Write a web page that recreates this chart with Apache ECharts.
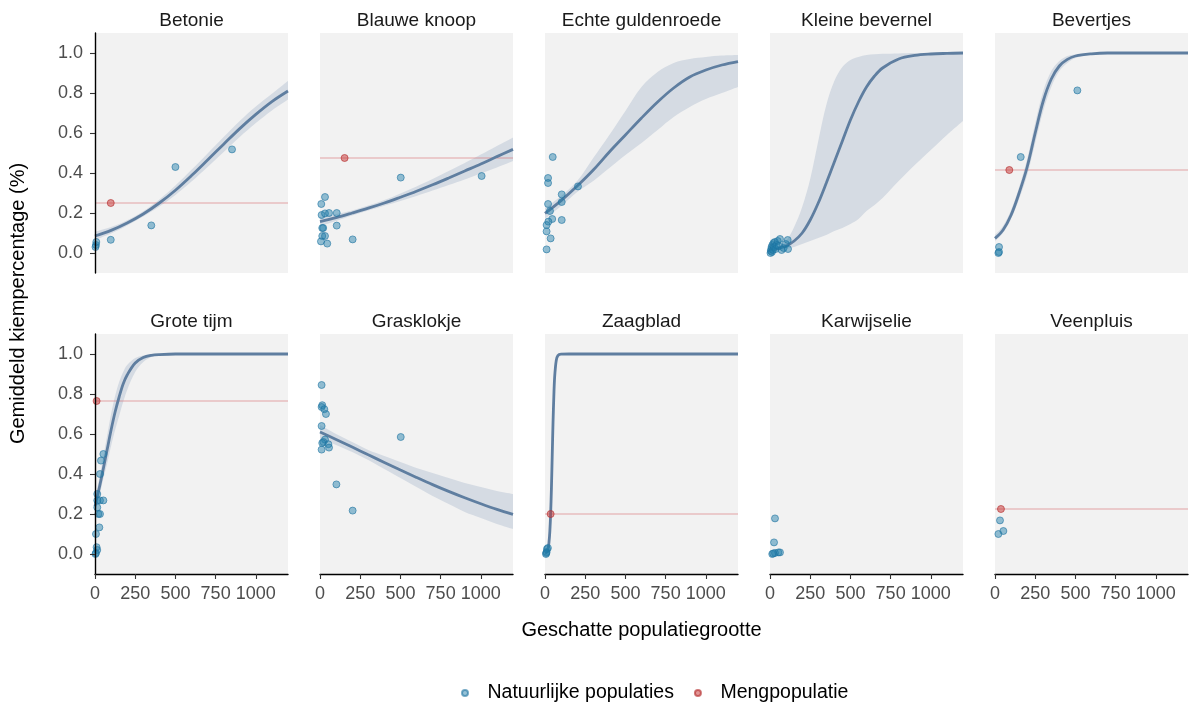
<!DOCTYPE html>
<html>
<head>
<meta charset="utf-8">
<script src="https://cdn.jsdelivr.net/npm/echarts@6/dist/echarts.min.js"></script>
<style>
  html, body { margin: 0; padding: 0; background: #ffffff; }
  #chart { width: 1192px; height: 702px; }
</style>
</head>
<body>
<div id="chart"></div>
<script>
// ---- data ---------------------------------------------------------------
const speciesNames = ['Betonie', 'Blauwe knoop', 'Echte guldenroede', 'Kleine bevernel', 'Bevertjes',
                      'Grote tijm', 'Grasklokje', 'Zaagblad', 'Karwijselie', 'Veenpluis'];

const xTicks = [0, 250, 500, 750, 1000];
const yTicks = [0, 0.2, 0.4, 0.6, 0.8, 1.0];

// natural populations: [estimated population size, mean germination fraction]
const naturalPops = [
  [[3, 0.03], [6, 0.04], [8, 0.055], [98, 0.066], [350, 0.138], [500, 0.43], [852, 0.518]],
  [[8, 0.245], [31, 0.28], [10, 0.19], [31, 0.198], [56, 0.2], [104, 0.2], [14, 0.125], [20, 0.125],
   [104, 0.137], [14, 0.085], [31, 0.085], [6, 0.058], [45, 0.047], [203, 0.068], [502, 0.377], [1005, 0.385]],
  [[48, 0.48], [19, 0.375], [19, 0.35], [104, 0.293], [104, 0.255], [19, 0.245], [31, 0.21], [45, 0.17],
   [21, 0.157], [10, 0.14], [10, 0.108], [104, 0.165], [35, 0.073], [10, 0.018], [205, 0.333]],
  [[3, 0.0], [5, 0.01], [8, 0.02], [10, 0.03], [12, 0.005], [15, 0.04], [18, 0.015], [22, 0.05], [25, 0.03],
   [30, 0.055], [35, 0.02], [40, 0.04], [48, 0.06], [55, 0.035], [62, 0.07], [72, 0.015], [85, 0.025],
   [98, 0.045], [110, 0.065], [112, 0.02]],
  [[25, 0.03], [21, 0.0], [25, 0.005], [160, 0.48], [512, 0.813]],
  [[52, 0.50], [37, 0.467], [31, 0.40], [14, 0.30], [14, 0.268], [31, 0.268], [52, 0.268], [14, 0.233],
   [21, 0.20], [31, 0.20], [27, 0.133], [6, 0.10], [10, 0.034], [14, 0.02], [6, 0.005], [3, 0.0]],
  [[10, 0.845], [14, 0.744], [10, 0.735], [27, 0.724], [37, 0.70], [10, 0.64], [31, 0.572], [21, 0.56],
   [14, 0.555], [52, 0.549], [56, 0.532], [10, 0.522], [502, 0.585], [102, 0.348], [203, 0.217]],
  [[6, 0.0], [10, 0.01], [12, 0.025], [18, 0.03], [8, 0.005]],
  [[31, 0.178], [25, 0.058], [14, 0.0], [31, 0.005], [52, 0.008], [62, 0.008], [20, 0.003]],
  [[31, 0.168], [52, 0.115], [21, 0.10]]
];

// mixed population: [size, germination] (null where absent)
const mixedPop = [[98, 0.25], [153, 0.475], null, null, [89, 0.415], [10, 0.765], null, [35, 0.20], null, [37, 0.225]];

// fitted logistic curves with confidence band, sampled along population size
const evenSizes = [0, 100, 200, 300, 400, 500, 600, 700, 800, 900, 1000, 1100, 1200];
const fitSizes = [
  evenSizes,
  evenSizes,
  evenSizes,
  [0, 50, 100, 150, 200, 250, 300, 350, 400, 450, 500, 550, 600, 650, 700, 800, 900, 1000, 1100, 1200],
  [0, 50, 100, 150, 200, 250, 300, 350, 400, 450, 500, 600, 700, 800, 900, 1000, 1100, 1200],
  [0, 25, 50, 75, 100, 125, 150, 175, 200, 250, 300, 350, 400, 500, 600, 700, 800, 900, 1000, 1100, 1200],
  evenSizes,
  [0, 10, 20, 25, 30, 35, 40, 45, 50, 55, 60, 70, 80, 100, 150, 200, 400, 600, 800, 1000, 1200],
  null,
  null
];
const fitMid = [
  [0.085, 0.113, 0.150, 0.195, 0.250, 0.314, 0.387, 0.465, 0.544, 0.622, 0.693, 0.757, 0.810],
  [0.157, 0.177, 0.200, 0.224, 0.250, 0.279, 0.309, 0.341, 0.375, 0.410, 0.445, 0.482, 0.518],
  [0.198, 0.262, 0.335, 0.415, 0.505, 0.59, 0.675, 0.755, 0.825, 0.88, 0.915, 0.94, 0.957],
  [0.015, 0.022, 0.035, 0.06, 0.10, 0.165, 0.25, 0.35, 0.455, 0.56, 0.665, 0.755, 0.83, 0.885, 0.925, 0.97, 0.988, 0.995, 0.998, 1.0],
  [0.073, 0.115, 0.19, 0.30, 0.43, 0.60, 0.76, 0.87, 0.935, 0.968, 0.985, 0.996, 1, 1, 1, 1, 1, 1],
  [0.24, 0.325, 0.42, 0.52, 0.62, 0.71, 0.785, 0.85, 0.895, 0.955, 0.982, 0.993, 0.997, 1, 1, 1, 1, 1, 1, 1, 1],
  [0.610, 0.573, 0.535, 0.496, 0.458, 0.420, 0.383, 0.347, 0.313, 0.281, 0.251, 0.223, 0.198],
  [0.002, 0.008, 0.031, 0.06, 0.112, 0.20, 0.33, 0.496, 0.66, 0.79, 0.885, 0.968, 0.992, 0.999, 1, 1, 1, 1, 1, 1, 1],
  null,
  null
];
const fitLow = [
  [0.065, 0.097, 0.137, 0.182, 0.232, 0.290, 0.357, 0.430, 0.505, 0.580, 0.650, 0.713, 0.768],
  [0.135, 0.160, 0.187, 0.212, 0.236, 0.260, 0.285, 0.312, 0.340, 0.368, 0.398, 0.428, 0.460],
  [0.17, 0.235, 0.305, 0.36, 0.425, 0.49, 0.55, 0.615, 0.68, 0.73, 0.77, 0.80, 0.83],
  [0.008, 0.012, 0.02, 0.03, 0.045, 0.06, 0.075, 0.09, 0.11, 0.125, 0.145, 0.17, 0.21, 0.24, 0.275, 0.36, 0.44, 0.515, 0.59, 0.66],
  [0.06, 0.10, 0.17, 0.27, 0.39, 0.55, 0.71, 0.83, 0.91, 0.95, 0.975, 0.993, 0.999, 1, 1, 1, 1, 1],
  [0.20, 0.28, 0.37, 0.45, 0.54, 0.62, 0.69, 0.76, 0.82, 0.91, 0.96, 0.985, 0.994, 0.999, 1, 1, 1, 1, 1, 1, 1],
  [0.575, 0.545, 0.51, 0.47, 0.425, 0.38, 0.335, 0.29, 0.25, 0.21, 0.18, 0.15, 0.125],
  [0.001, 0.004, 0.015, 0.03, 0.06, 0.11, 0.20, 0.33, 0.50, 0.65, 0.78, 0.93, 0.975, 0.996, 1, 1, 1, 1, 1, 1, 1],
  null,
  null
];
const fitHigh = [
  [0.107, 0.130, 0.164, 0.209, 0.268, 0.338, 0.416, 0.498, 0.580, 0.660, 0.732, 0.796, 0.860],
  [0.180, 0.195, 0.213, 0.237, 0.265, 0.298, 0.333, 0.370, 0.410, 0.450, 0.492, 0.535, 0.578],
  [0.225, 0.285, 0.36, 0.475, 0.59, 0.71, 0.83, 0.905, 0.95, 0.97, 0.98, 0.987, 0.99],
  [0.025, 0.035, 0.06, 0.13, 0.23, 0.37, 0.56, 0.74, 0.86, 0.93, 0.965, 0.98, 0.99, 0.994, 0.996, 0.998, 1, 1, 1, 1],
  [0.09, 0.135, 0.215, 0.33, 0.47, 0.65, 0.81, 0.91, 0.96, 0.985, 0.993, 0.999, 1, 1, 1, 1, 1, 1],
  [0.28, 0.37, 0.48, 0.59, 0.70, 0.79, 0.86, 0.91, 0.945, 0.98, 0.993, 0.998, 1, 1, 1, 1, 1, 1, 1, 1, 1],
  [0.645, 0.60, 0.56, 0.52, 0.49, 0.46, 0.43, 0.405, 0.38, 0.355, 0.335, 0.315, 0.30],
  [0.004, 0.013, 0.045, 0.09, 0.16, 0.28, 0.44, 0.61, 0.75, 0.86, 0.93, 0.985, 0.996, 1, 1, 1, 1, 1, 1, 1, 1],
  null,
  null
];

// ---- layout & style -----------------------------------------------------
const FONT = "'Liberation Sans', Arial, Helvetica, sans-serif";
const X_MIN = 0, X_MAX = 1200;
const Y_MIN = -0.1, Y_MAX = 1.1;
const PANEL_W = 193, PANEL_H = 240, COL_STEP = 225, LEFT0 = 95;
const ROW_TOP = [33, 334];
const SMOOTH = 0.35;

const C_PANEL = '#F2F2F2';
const C_BAND = '#D5DBE3';
const C_FIT = '#5F7EA0';
const C_NAT = 'rgba(35,128,172,0.6)';
const C_NAT_BORDER = 'rgba(30,115,160,0.75)';
const C_MIX = 'rgba(200,55,55,0.65)';
const C_MIX_BORDER = 'rgba(180,45,45,0.8)';
const C_MIX_LINE = 'rgba(215,100,105,0.28)';

const grids = [], xAxes = [], yAxes = [], series = [], graphics = [];

speciesNames.forEach((name, i) => {
  const row = i < 5 ? 0 : 1;
  const col = i % 5;
  const left = LEFT0 + COL_STEP * col;
  const top = ROW_TOP[row];

  grids.push({
    left: left, top: top, width: PANEL_W, height: PANEL_H,
    show: true, backgroundColor: C_PANEL, borderWidth: 0, containLabel: false
  });

  const showX = row === 1;
  const showY = col === 0;

  xAxes.push({
    gridIndex: i, type: 'value', min: X_MIN, max: X_MAX, z: 10,
    axisLine: { show: showX, onZero: false, lineStyle: { color: '#000', width: 1.4 } },
    axisTick: { show: showX, customValues: xTicks, length: 5, lineStyle: { color: '#333', width: 1.1 } },
    axisLabel: { show: showX, customValues: xTicks, color: '#4D4D4D', fontSize: 18, fontFamily: FONT, margin: 11,
                 formatter: v => String(v) },
    splitLine: { show: false }
  });
  yAxes.push({
    gridIndex: i, type: 'value', min: Y_MIN, max: Y_MAX, z: 10,
    axisLine: { show: showY, onZero: false, lineStyle: { color: '#000', width: 1.4 } },
    axisTick: { show: showY, customValues: yTicks, length: 5, lineStyle: { color: '#333', width: 1.1 } },
    axisLabel: { show: showY, customValues: yTicks, color: '#4D4D4D', fontSize: 18, fontFamily: FONT, margin: 12,
                 formatter: v => v.toFixed(1) },
    splitLine: { show: false }
  });

  // facet strip title
  graphics.push({
    type: 'text', x: left + PANEL_W / 2, y: top - 12,
    style: { text: name, fill: '#1A1A1A', font: '19px ' + FONT, align: 'center', verticalAlign: 'middle' }
  });

  const xs = fitSizes[i];
  if (xs) {
    const lowData = xs.map((x, k) => [x, fitLow[i][k]]);
    const highData = xs.map((x, k) => [x, fitHigh[i][k]]);
    const midData = xs.map((x, k) => [x, fitMid[i][k]]);
    const common = { type: 'line', xAxisIndex: i, yAxisIndex: i, symbol: 'none', smooth: SMOOTH,
                     silent: true, animation: false };
    // confidence band: upper bound filled down, then the panel colour below the lower bound
    series.push(Object.assign({}, common, {
      name: 'band-high-' + i, data: highData,
      lineStyle: { width: 0, opacity: 0 }, areaStyle: { color: C_BAND, opacity: 1, origin: 'start' }, z: 1
    }));
    series.push(Object.assign({}, common, {
      name: 'band-low-' + i, data: lowData,
      lineStyle: { width: 0, opacity: 0 }, areaStyle: { color: C_PANEL, opacity: 1, origin: 'start' }, z: 1.5
    }));
    series.push(Object.assign({}, common, {
      name: 'fit-' + i, data: midData,
      lineStyle: { color: C_FIT, width: 2.8 }, z: 3
    }));
  }

  const mix = mixedPop[i];
  if (mix) {
    // horizontal reference at the mixed population's germination level
    series.push({
      type: 'line', name: 'mix-level-' + i, xAxisIndex: i, yAxisIndex: i, silent: true, animation: false,
      symbol: 'none', data: [[X_MIN, mix[1]], [X_MAX, mix[1]]],
      lineStyle: { color: C_MIX_LINE, width: 2 }, z: 2
    });
  }

  series.push({
    type: 'scatter', name: 'Natuurlijke populaties', xAxisIndex: i, yAxisIndex: i,
    data: naturalPops[i], symbolSize: 7, animation: false,
    itemStyle: { color: C_NAT, borderColor: C_NAT_BORDER, borderWidth: 1 }, z: 4
  });
  if (mix) {
    series.push({
      type: 'scatter', name: 'Mengpopulatie', xAxisIndex: i, yAxisIndex: i,
      data: [mix], symbolSize: 7, animation: false,
      itemStyle: { color: C_MIX, borderColor: C_MIX_BORDER, borderWidth: 1 }, z: 5
    });
  }
});

// axis titles
graphics.push({
  type: 'text', x: LEFT0 + (COL_STEP * 4 + PANEL_W) / 2, y: 630,
  style: { text: 'Geschatte populatiegrootte', fill: '#000', font: '20px ' + FONT, align: 'center', verticalAlign: 'middle' }
});
graphics.push({
  type: 'text', x: 18, y: (ROW_TOP[0] + ROW_TOP[1] + PANEL_H) / 2, rotation: Math.PI / 2,
  style: { text: 'Gemiddeld kiempercentage (%)', fill: '#000', font: '20px ' + FONT, align: 'center', verticalAlign: 'middle' }
});

const chart = echarts.init(document.getElementById('chart'), null, { renderer: 'canvas' });
chart.setOption({
  animation: false,
  backgroundColor: '#ffffff',
  textStyle: { fontFamily: FONT },
  grid: grids,
  xAxis: xAxes,
  yAxis: yAxes,
  series: series,
  graphic: graphics,
  legend: {
    data: [{ name: 'Natuurlijke populaties', icon: 'circle' }, { name: 'Mengpopulatie', icon: 'circle' }],
    left: 456, top: 678, itemWidth: 35, itemHeight: 6, itemGap: 20,
    selectedMode: false,
    textStyle: { fontSize: 19.5, color: '#000', fontFamily: FONT }
  }
});
</script>
</body>
</html>
